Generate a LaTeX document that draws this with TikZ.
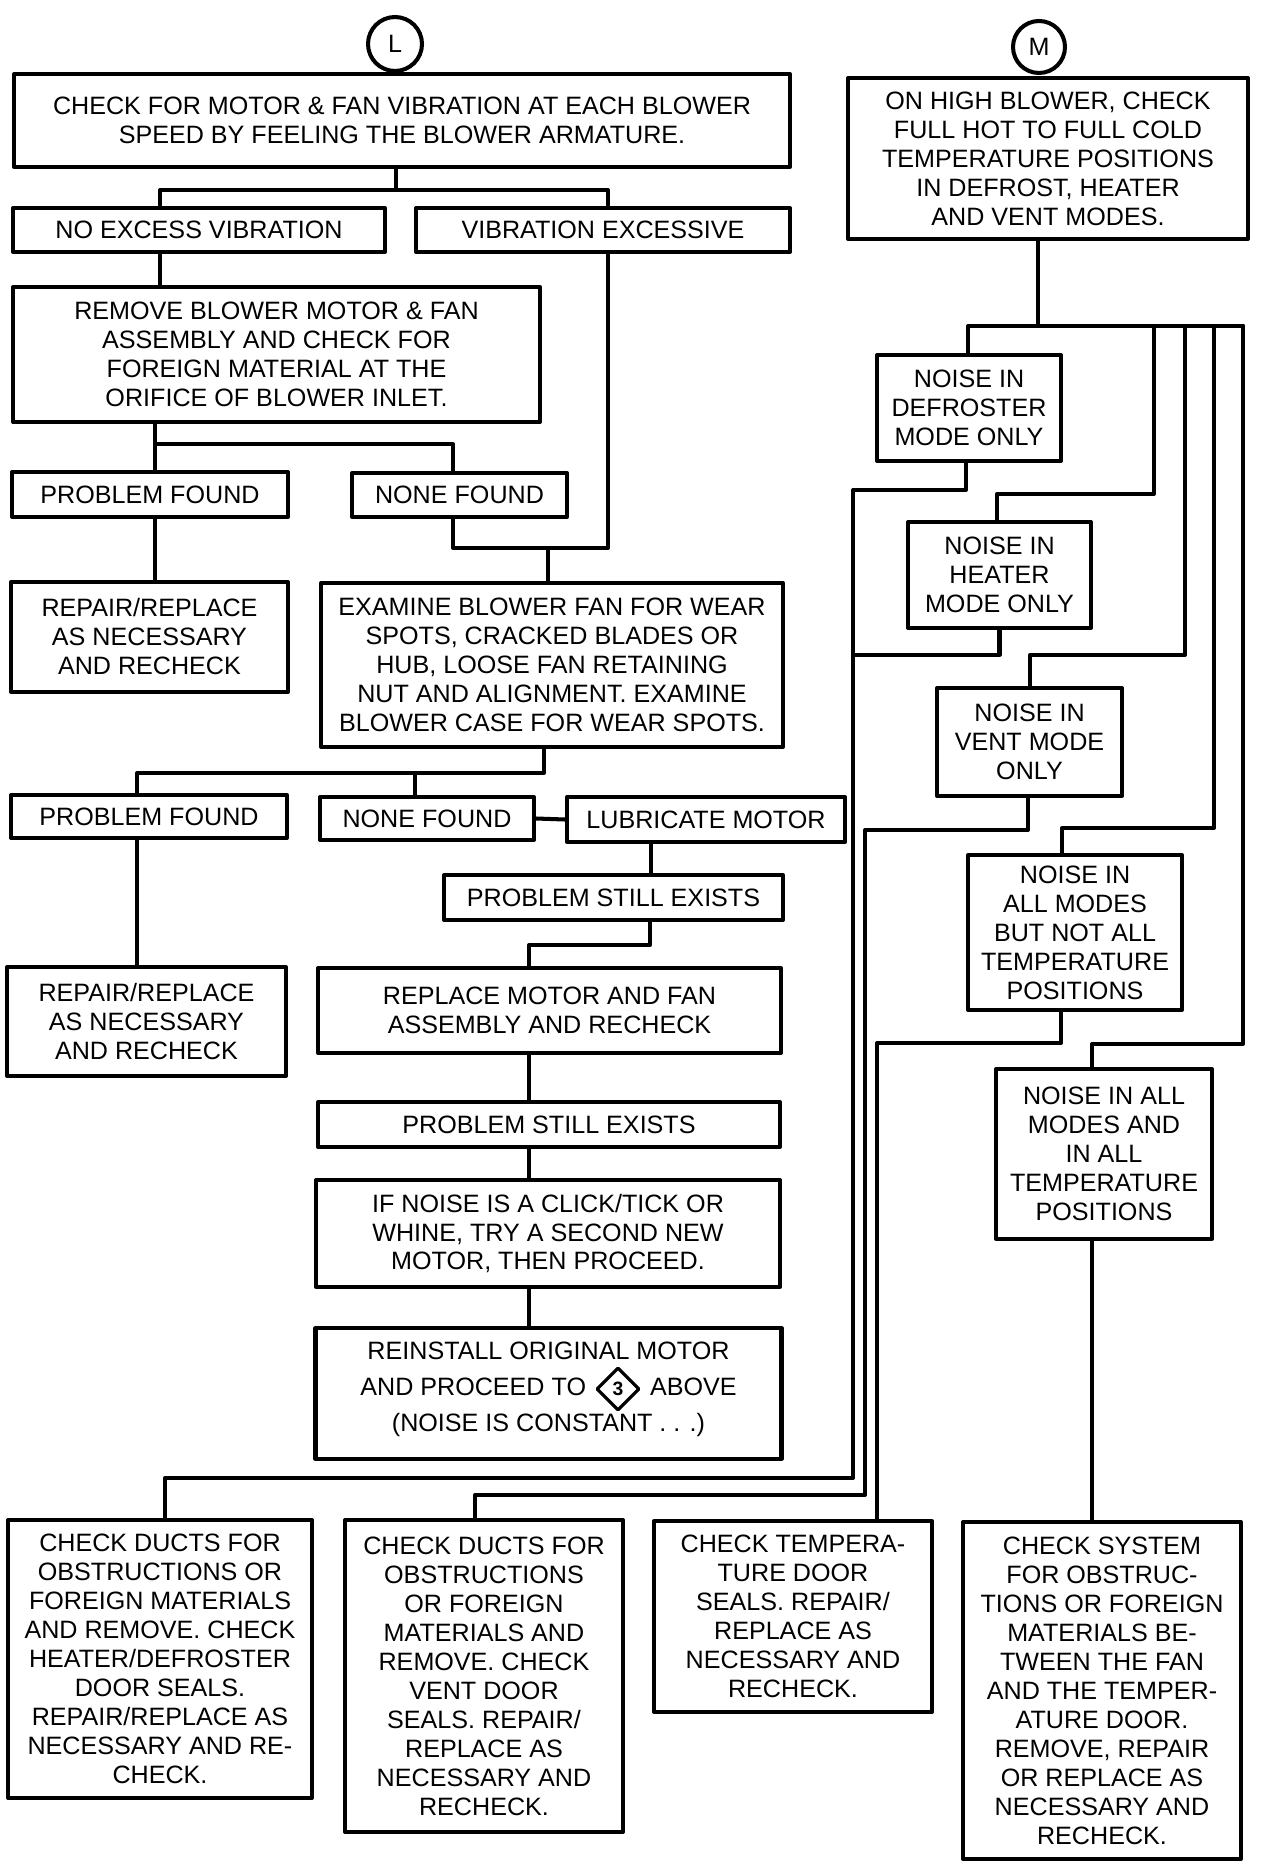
\documentclass[tikz,border=0pt]{standalone}
\usepackage{fontspec}
\setmainfont{Liberation Sans}
\usetikzlibrary{shapes.geometric}
\begin{document}
\begin{tikzpicture}[x=.02cm, y=-.02cm, line join = round, line cap = round, line width=2.3pt,
  box/.style 2 args={draw, align=center, inner sep=1pt, minimum width=#1*0.02cm, minimum height=#2*0.02cm},
  mark3/.style={draw, diamond, shape aspect=1, inner sep=0pt, minimum size=43*0.02cm, line width=1.8pt, font=\fontsize{11}{12}\selectfont\bfseries},
  every node/.style={font=\fontsize{14.3}{16.5}\selectfont}]
%Khung hình
\useasboundingbox (0,0) rectangle (1264,1868);
%Cột trái
\node[circle, draw, inner sep=0pt, minimum size=54*0.02cm] (L) at (395,44) {L};
\node[box={776}{93}] (c1) at (402,120.5) {CHECK FOR MOTOR \& FAN VIBRATION AT EACH BLOWER\\SPEED BY FEELING THE BLOWER ARMATURE.};
\node[box={372}{44}] (noexc) at (199,230) {NO EXCESS VIBRATION};
\node[box={374}{44}] (vibexc) at (603,230) {VIBRATION EXCESSIVE};
\node[box={527}{135}] (remove) at (276.5,354.5) {REMOVE BLOWER MOTOR \& FAN\\ASSEMBLY AND CHECK FOR\\FOREIGN MATERIAL AT THE\\ORIFICE OF BLOWER INLET.};
\node[box={276}{45}] (pfa) at (150,494.5) {PROBLEM FOUND};
\node[box={215}{44}] (nfa) at (459.5,495) {NONE FOUND};
\node[box={277}{110}] (repa) at (149.5,637) {REPAIR/REPLACE\\AS NECESSARY\\AND RECHECK};
\node[box={462}{164}] (exam) at (552,665) {EXAMINE BLOWER FAN FOR WEAR\\SPOTS, CRACKED BLADES OR\\HUB, LOOSE FAN RETAINING\\NUT AND ALIGNMENT. EXAMINE\\BLOWER CASE FOR WEAR SPOTS.};
\node[box={276}{43}] (pfb) at (149,816.5) {PROBLEM FOUND};
\node[box={214}{43}] (nfb) at (427,818.5) {NONE FOUND};
\node[box={278}{45}] (lube) at (706,819.5) {LUBRICATE MOTOR};
\node[box={339}{45}] (psea) at (613.5,897.5) {PROBLEM STILL EXISTS};
\node[box={279}{109}] (repb) at (146.5,1021.5) {REPAIR/REPLACE\\AS NECESSARY\\AND RECHECK};
\node[box={463}{85}] (repl) at (549.5,1010.5) {REPLACE MOTOR AND FAN\\ASSEMBLY AND RECHECK};
\node[box={462}{45}] (pseb) at (549,1124.5) {PROBLEM STILL EXISTS};
\node[box={464}{107}] (click) at (548,1233.5) {IF NOISE IS A CLICK/TICK OR\\WHINE, TRY A SECOND NEW\\MOTOR, THEN PROCEED.};
\node[box={466}{131}] (reins) at (548.5,1393.5) {REINSTALL ORIGINAL MOTOR\\[4pt]AND PROCEED TO \hspace{1cm} ABOVE\\[4pt](NOISE IS CONSTANT . . .)\\[-9pt]\mbox{}};
\node[mark3] (st3) at (618,1389) {3};
%Cột phải
\node[circle, draw, inner sep=0pt, minimum size=52*0.02cm] (M) at (1039,47) {M};
\node[box={400}{161}] (mbox) at (1048,158.5) {ON HIGH BLOWER, CHECK\\FULL HOT TO FULL COLD\\TEMPERATURE POSITIONS\\IN DEFROST, HEATER\\AND VENT MODES.};
\node[box={184}{106}] (defr) at (969,408) {NOISE IN\\DEFROSTER\\MODE ONLY};
\node[box={183}{106}] (heat) at (999.5,575) {NOISE IN\\HEATER\\MODE ONLY};
\node[box={185}{108}] (vent) at (1029.5,742) {NOISE IN\\VENT MODE\\ONLY};
\node[box={214}{155}] (part) at (1075,932.5) {NOISE IN\\ALL MODES\\BUT NOT ALL\\TEMPERATURE\\POSITIONS};
\node[box={216}{170}] (full) at (1104,1154) {NOISE IN ALL\\MODES AND\\IN ALL\\TEMPERATURE\\POSITIONS};
%Các hộp cuối
\node[box={304}{278}] (bA) at (160,1659) {CHECK DUCTS FOR\\OBSTRUCTIONS OR\\FOREIGN MATERIALS\\AND REMOVE. CHECK\\HEATER/DEFROSTER\\DOOR SEALS.\\REPAIR/REPLACE AS\\NECESSARY AND RE-\\CHECK.};
\node[box={278}{312}] (bB) at (484,1676) {CHECK DUCTS FOR\\OBSTRUCTIONS\\OR FOREIGN\\MATERIALS AND\\REMOVE. CHECK\\VENT DOOR\\SEALS. REPAIR/\\REPLACE AS\\NECESSARY AND\\RECHECK.};
\node[box={278}{191}] (bC) at (793,1616.5) {CHECK TEMPERA-\\TURE DOOR\\SEALS. REPAIR/\\REPLACE AS\\NECESSARY AND\\RECHECK.};
\node[box={278}{337}] (bD) at (1102,1690.5) {CHECK SYSTEM\\FOR OBSTRUC-\\TIONS OR FOREIGN\\MATERIALS BE-\\TWEEN THE FAN\\AND THE TEMPER-\\ATURE DOOR.\\REMOVE, REPAIR\\OR REPLACE AS\\NECESSARY AND\\RECHECK.};
%Đường nối cột trái
\coordinate (jA) at (396,190); \coordinate (jB) at (160,190); \coordinate (jC) at (608,190);
\draw (c1.south -| jA) -- (jA);
\draw (noexc.north -| jB) -- (jB) -- (jC) -- (vibexc.north -| jC);
\draw (noexc.south -| jB) -- (remove.north -| jB);
\coordinate (kA) at (155,444); \coordinate (kB) at (453,444);
\draw (remove.south -| kA) -- (kA) -- (kB) -- (nfa.north -| kB);
\draw (kA) -- (pfa.north -| kA);
\draw (pfa.south -| kA) -- (repa.north -| kA);
\coordinate (mA) at (453,548); \coordinate (mB) at (608,548); \coordinate (mC) at (548,548);
\draw (vibexc.south -| mB) -- (mB) -- (mA) -- (nfa.south -| mA);
\draw (mC) -- (exam.north -| mC);
\coordinate (nA) at (544,773); \coordinate (nB) at (137,773); \coordinate (nC) at (415,773);
\draw (exam.south -| nA) -- (nA) -- (nB) -- (pfb.north -| nB);
\draw (nC) -- (nfb.north -| nC);
\draw (pfb.south -| nB) -- (repb.north -| nB);
\draw (nfb.east) -- (lube.west);
\coordinate (pA) at (651,860);
\draw (lube.south -| pA) -- (psea.north -| pA);
\coordinate (qA) at (650,945); \coordinate (qB) at (529,945);
\draw (psea.south -| qA) -- (qA) -- (qB) -- (repl.north -| qB);
\draw (repl.south -| qB) -- (pseb.north -| qB);
\draw (pseb.south -| qB) -- (click.north -| qB);
\draw (click.south -| qB) -- (reins.north -| qB);
%Đường nối cột phải
\coordinate (rA) at (1038,326); \coordinate (rB) at (968,326); \coordinate (rC) at (1154,326);
\coordinate (rD) at (1185,326); \coordinate (rE) at (1214,326); \coordinate (rF) at (1243,326);
\draw (mbox.south -| rA) -- (rA);
\draw (defr.north -| rB) -- (rB) -- (rF);
\coordinate (sA) at (997,494); \coordinate (sB) at (1030,655);
\coordinate (sC) at (1062,828); \coordinate (sD) at (1092,1044);
\draw (rC) |- (sA) -- (heat.north -| sA);
\draw (rD) |- (sB) -- (vent.north -| sB);
\draw (rE) |- (sC) -- (part.north -| sC);
\draw (rF) |- (sD) -- (full.north -| sD);
\coordinate (tA) at (966,490); \coordinate (tB) at (853,490); \coordinate (tC) at (853,1478);
\coordinate (tD) at (165,1478); \coordinate (tE) at (853,655);
\draw (defr.south -| tA) -- (tA) -- (tB) -- (tC) -- (tD) -- (bA.north -| tD);
\draw (heat.south) |- (tE);
\coordinate (vA) at (1028,830); \coordinate (vB) at (865,830);
\coordinate (vC) at (865,1495); \coordinate (vD) at (475,1495);
\draw (vent.south -| vA) -- (vA) -- (vB) -- (vC) -- (vD) -- (bB.north -| vD);
\coordinate (wA) at (1061,1043); \coordinate (wB) at (877,1043);
\draw (part.south -| wA) -- (wA) -- (wB) -- (bC.north -| wB);
\draw (full.south -| sD) -- (bD.north -| sD);
\end{tikzpicture}
\end{document}
